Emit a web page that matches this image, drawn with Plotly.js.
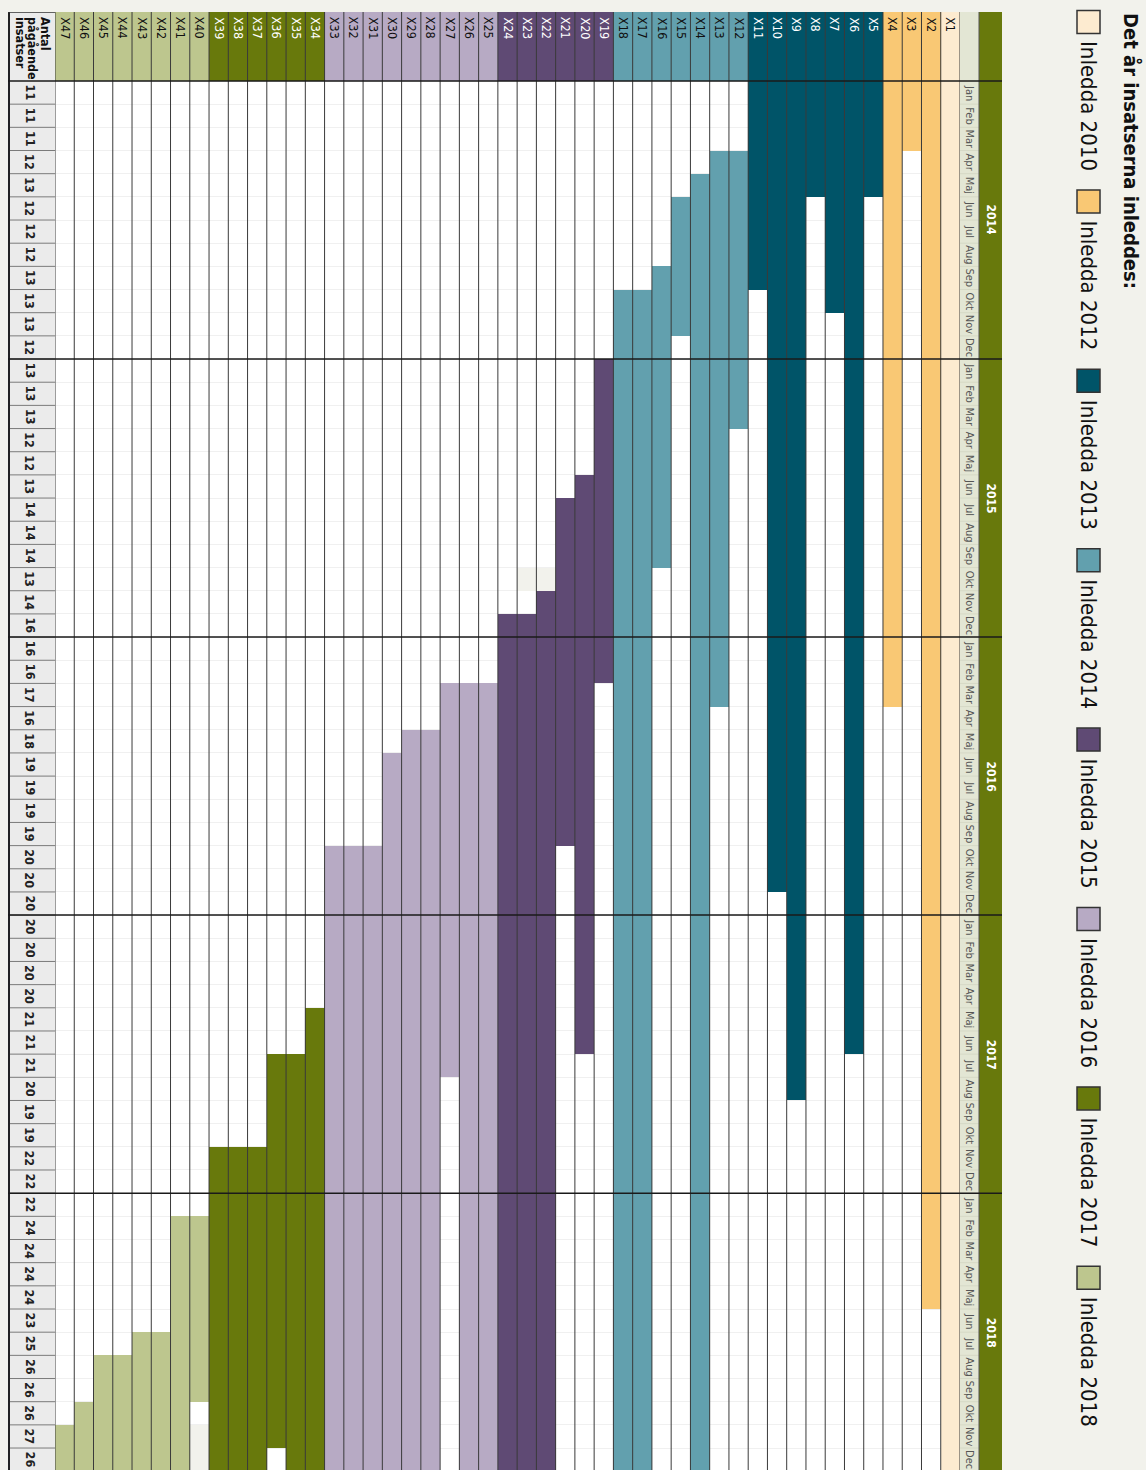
<!DOCTYPE html>
<html>
<head>
<meta charset="utf-8">
<script src="https://cdn.plot.ly/plotly-3.0.1.min.js"></script>
<style>
html,body{margin:0;padding:0;background:#f2f2ec;overflow:hidden}
#chart{width:1146px;height:1470px}
</style>
</head>
<body>
<div id="chart"></div>
<script>
// ---------------- DATA ----------------
const years = [2014, 2015, 2016, 2017, 2018];
const monthNames = ['Jan','Feb','Mar','Apr','Maj','Jun','Jul','Aug','Sep','Okt','Nov','Dec'];

const groups = ['Inledda 2010','Inledda 2012','Inledda 2013','Inledda 2014','Inledda 2015','Inledda 2016','Inledda 2017','Inledda 2018'];
const groupColors = ['#fdebd0','#f9c874','#005468','#62a0ae','#5f4a74','#b7aac4','#68790c','#bdc68e'];
const groupLabelColors = ['#111111','#111111','#ffffff','#111111','#ffffff','#111111','#ffffff','#111111'];

const names = ['X1','X2','X3','X4','X5','X6','X7','X8','X9','X10',
  'X11','X12','X13','X14','X15','X16','X17','X18','X19','X20',
  'X21','X22','X23','X24','X25','X26','X27','X28','X29','X30',
  'X31','X32','X33','X34','X35','X36','X37','X38','X39','X40',
  'X41','X42','X43','X44','X45','X46','X47'];

const rowGroup = ['Inledda 2010','Inledda 2012','Inledda 2012','Inledda 2012',
  'Inledda 2013','Inledda 2013','Inledda 2013','Inledda 2013','Inledda 2013','Inledda 2013','Inledda 2013',
  'Inledda 2014','Inledda 2014','Inledda 2014','Inledda 2014','Inledda 2014','Inledda 2014','Inledda 2014',
  'Inledda 2015','Inledda 2015','Inledda 2015','Inledda 2015','Inledda 2015','Inledda 2015',
  'Inledda 2016','Inledda 2016','Inledda 2016','Inledda 2016','Inledda 2016','Inledda 2016','Inledda 2016','Inledda 2016','Inledda 2016',
  'Inledda 2017','Inledda 2017','Inledda 2017','Inledda 2017','Inledda 2017','Inledda 2017',
  'Inledda 2018','Inledda 2018','Inledda 2018','Inledda 2018','Inledda 2018','Inledda 2018','Inledda 2018','Inledda 2018'];

// first and last month shown as ongoing (within Jan 2014 - Dec 2018)
const rowFirst = ['2014-01','2014-01','2014-01','2014-01','2014-01','2014-01','2014-01','2014-01','2014-01','2014-01',
  '2014-01','2014-04','2014-04','2014-05','2014-06','2014-09','2014-10','2014-10','2015-01','2015-06',
  '2015-07','2015-11','2015-12','2015-12','2016-03','2016-03','2016-03','2016-05','2016-05','2016-06',
  '2016-10','2016-10','2016-10','2017-05','2017-07','2017-07','2017-11','2017-11','2017-11','2018-02',
  '2018-02','2018-07','2018-07','2018-08','2018-08','2018-10','2018-11'];
const rowLast = ['2018-12','2018-05','2014-03','2016-03','2014-05','2017-06','2014-10','2014-05','2017-08','2016-11',
  '2014-09','2015-03','2016-03','2018-12','2014-11','2015-09','2018-12','2018-12','2016-02','2017-06',
  '2016-09','2018-12','2018-12','2018-12','2018-12','2018-12','2017-07','2018-12','2018-12','2018-12',
  '2018-12','2018-12','2018-12','2018-12','2018-12','2018-11','2018-12','2018-12','2018-12','2018-09',
  '2018-12','2018-12','2018-12','2018-12','2018-12','2018-12','2018-12'];

// cells shown in pale grey (no colour)
const pauseNames = ['X22','X23','X40'];
const pauseFirst = ['2015-10','2015-10','2018-11'];
const pauseLast  = ['2015-10','2015-10','2018-12'];

// Antal pågående insatser per month, Jan 2014 .. Dec 2018
const ongoing2014 = [11,11,11,12,13,12,12,12,13,13,13,12];
const ongoing2015 = [13,13,13,12,12,13,14,14,14,13,14,16];
const ongoing2016 = [16,16,17,16,18,19,19,19,19,20,20,20];
const ongoing2017 = [20,20,20,20,21,21,21,20,19,19,22,22];
const ongoing2018 = [22,24,24,24,24,23,25,26,26,26,27,26];

// ---------------- LAYOUT CONSTANTS ----------------
const W = 1146, H = 1470;
const MONTH_PX = 23.17;
const TABLE_TOP = 12, HEAD_BOTTOM = 81;
const HEAD_UNITS = (HEAD_BOTTOM - TABLE_TOP) / MONTH_PX;
const Y_BOTTOM = -HEAD_UNITS + (H - TABLE_TOP) / MONTH_PX;
const COL_L = 55, COL_R = 960;          // data columns
const MON_L = 960, MON_R = 979;         // month label column
const YR_L = 979, YR_R = 1002;          // year band
const CNT_L = 8, CNT_R = 55;            // count column
const NARROW = '"DejaVu Sans Condensed", "Liberation Sans Narrow", "Arial Narrow", sans-serif';

const px = v => v / W;
const py = v => 1 - v / H;
const mIdx = s => (parseInt(s.slice(0,4)) - years[0]) * 12 + parseInt(s.slice(5,7)) - 1;
const nMonths = years.length * 12;
const ongoing = [].concat(ongoing2014, ongoing2015, ongoing2016, ongoing2017, ongoing2018);

// ---------------- TRACES ----------------
const traces = [];
// header cells
traces.push({
  type: 'bar', x: names, base: names.map(() => -HEAD_UNITS), y: names.map(() => HEAD_UNITS),
  width: 1, marker: {color: rowGroup.map(g => groupColors[groups.indexOf(g)]), line: {width: 0}},
  showlegend: false, hoverinfo: 'skip'
});
groups.forEach((g, gi) => {
  const idx = names.map((n, i) => i).filter(i => rowGroup[i] === g);
  traces.push({
    type: 'bar', name: g,
    x: idx.map(i => names[i]),
    base: idx.map(i => mIdx(rowFirst[i])),
    y: idx.map(i => mIdx(rowLast[i]) + 1 - mIdx(rowFirst[i])),
    width: 1, marker: {color: groupColors[gi], line: {width: 0}},
    showlegend: false,
    hovertemplate: '%{x}<extra>' + g + '</extra>'
  });
});
traces.push({
  type: 'bar', name: 'paus', x: pauseNames,
  base: pauseFirst.map(mIdx),
  y: pauseFirst.map((s, i) => mIdx(pauseLast[i]) + 1 - mIdx(s)),
  width: 1, marker: {color: '#f2f2ec', line: {width: 0}}, showlegend: false, hoverinfo: 'skip'
});

// ---------------- SHAPES ----------------
const shapes = [];
shapes.push({type:'rect', xref:'paper', yref:'y', x0:px(CNT_L), x1:px(CNT_R), y0:-HEAD_UNITS, y1:Y_BOTTOM+1, fillcolor:'#ebebeb', line:{width:0}, layer:'below'});
shapes.push({type:'rect', xref:'paper', yref:'y', x0:px(MON_L), x1:px(MON_R), y0:-HEAD_UNITS, y1:Y_BOTTOM+1, fillcolor:'#e3e6d4', line:{width:0}, layer:'below'});
shapes.push({type:'rect', xref:'paper', yref:'y', x0:px(YR_L), x1:px(YR_R), y0:-HEAD_UNITS, y1:Y_BOTTOM+1, fillcolor:'#68790c', line:{width:0}, layer:'below'});
for (let m = 1; m < nMonths; m++) {
  shapes.push({type:'line', xref:'paper', yref:'y', x0:px(CNT_L), x1:px(CNT_R), y0:m, y1:m, line:{color:'#7a7a7a', width:1}});
  shapes.push({type:'line', xref:'paper', yref:'y', x0:px(MON_L), x1:px(MON_R), y0:m, y1:m, line:{color:'#d6d9c6', width:1}});
}
for (let i = 0; i <= names.length; i++) {
  shapes.push({type:'line', xref:'x', yref:'y', x0:i-0.5, x1:i-0.5, y0:-HEAD_UNITS, y1:Y_BOTTOM+1, line:{color:'#3a3a3a', width:1}});
}
shapes.push({type:'line', xref:'paper', yref:'y', x0:px(MON_R), x1:px(MON_R), y0:-HEAD_UNITS, y1:Y_BOTTOM+1, line:{color:'#555', width:1}});
shapes.push({type:'line', xref:'paper', yref:'y', x0:px(CNT_L+1), x1:px(CNT_L+1), y0:-HEAD_UNITS, y1:Y_BOTTOM+1, line:{color:'#222', width:2}});
shapes.push({type:'line', xref:'paper', yref:'y', x0:px(CNT_L), x1:px(CNT_R), y0:-HEAD_UNITS, y1:-HEAD_UNITS, line:{color:'#333', width:1.5}});
[0, 12, 24, 36, 48].forEach(m => {
  shapes.push({type:'line', xref:'paper', yref:'y', x0:px(CNT_L), x1:px(YR_R), y0:m, y1:m, line:{color:'#1a1a1a', width:1.5}});
});
const LEG_TOP0 = 10.5, LEG_STEP = 179.4, LEG_SIZE = 23, LEG_X0 = 1077;
groups.forEach((g, gi) => {
  const t = LEG_TOP0 + gi * LEG_STEP;
  shapes.push({type:'rect', xref:'paper', yref:'paper', x0:px(LEG_X0), x1:px(LEG_X0+LEG_SIZE), y0:py(t), y1:py(t+LEG_SIZE), fillcolor:groupColors[gi], line:{color:'#333', width:1.5}});
});

// ---------------- ANNOTATIONS ----------------
const ann = [];
ann.push({xref:'paper', yref:'paper', x:px(1131), y:py(11), xanchor:'center', yanchor:'top', textangle:90, showarrow:false,
  text:'<b>Det år insatserna inleddes:</b>', font:{family:NARROW, size:20, color:'#111'}});
groups.forEach((g, gi) => {
  const t = LEG_TOP0 + gi * LEG_STEP;
  ann.push({xref:'paper', yref:'paper', x:px(LEG_X0+LEG_SIZE/2), y:py(t+LEG_SIZE+5), xanchor:'center', yanchor:'top', textangle:90, showarrow:false,
    text:g, font:{family:NARROW, size:22, color:'#111'}});
});
names.forEach((n, i) => {
  const gi = groups.indexOf(rowGroup[i]);
  ann.push({xref:'x', yref:'y', x:n, y:-HEAD_UNITS, xanchor:'center', yanchor:'top', yshift:-3, textangle:90, showarrow:false,
    text:n, font:{family:NARROW, size:12.5, color:groupLabelColors[gi]}});
});
for (let m = 0; m < nMonths; m++) {
  ann.push({xref:'paper', yref:'y', x:px((MON_L+MON_R)/2), y:m+0.5, xanchor:'center', yanchor:'middle', textangle:90, showarrow:false,
    text:monthNames[m % 12], font:{family:NARROW, size:11, color:'#555'}});
  ann.push({xref:'paper', yref:'y', x:px(30), y:m+0.5, xanchor:'center', yanchor:'middle', textangle:90, showarrow:false,
    text:'<b>' + ongoing[m] + '</b>', font:{family:NARROW, size:12.5, color:'#222'}});
}
years.forEach((yv, i) => {
  ann.push({xref:'paper', yref:'y', x:px((YR_L+YR_R)/2), y:i*12+6, xanchor:'center', yanchor:'middle', textangle:90, showarrow:false,
    text:'<b>' + yv + '</b>', font:{family:NARROW, size:12, color:'#ffffff'}});
});
['Antal','pågående','insatser'].forEach((t, i) => {
  ann.push({xref:'paper', yref:'y', x:px(45 - i*12.5), y:-HEAD_UNITS, xanchor:'center', yanchor:'top', yshift:-3, textangle:90, showarrow:false,
    text:'<b>' + t + '</b>', font:{family:NARROW, size:12.5, color:'#111'}});
});

const layout = {
  width: W, height: H,
  margin: {l:0, r:0, t:0, b:0, pad:0},
  paper_bgcolor: '#f2f2ec', plot_bgcolor: '#ffffff',
  barmode: 'overlay', bargap: 0,
  showlegend: false,
  xaxis: {type:'category', categoryorder:'array', categoryarray: names.slice().reverse(),
    domain:[px(COL_L), px(COL_R)], range:[-0.5, names.length-0.5],
    showgrid:false, zeroline:false, showticklabels:false, ticks:'', fixedrange:true},
  yaxis: {range:[Y_BOTTOM, -HEAD_UNITS], domain:[0, py(TABLE_TOP)],
    showgrid:true, gridcolor:'#f0f0f0', gridwidth:1, tick0:0, dtick:1,
    zeroline:false, showticklabels:false, ticks:'', fixedrange:true},
  shapes: shapes,
  annotations: ann
};

Plotly.newPlot('chart', traces, layout, {displayModeBar:false, staticPlot:true});
</script>
</body>
</html>
